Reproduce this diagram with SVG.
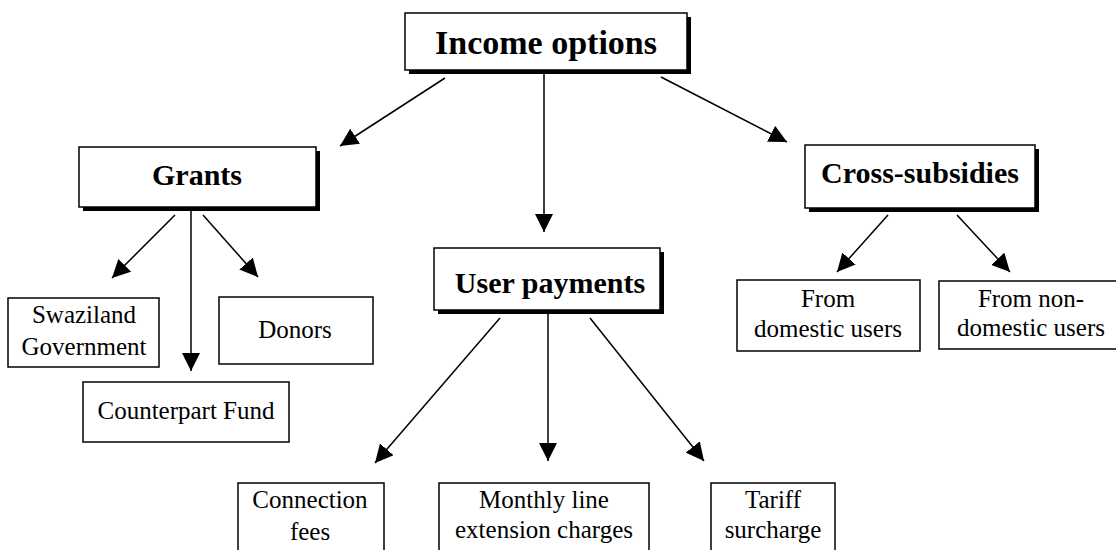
<svg xmlns="http://www.w3.org/2000/svg" width="1116" height="550" viewBox="0 0 1116 550">
  <style>
    .box { fill: #ffffff; stroke: #000000; stroke-width: 1.5; }
    .shadow { fill: #000000; }
    .title { font-weight: bold; font-size: 30px; fill: #000000; text-anchor: middle; }
    .label { font-size: 25px; fill: #000000; text-anchor: middle; }
    .conn { stroke: #000000; stroke-width: 1.5; fill: none; marker-end: url(#arrow); }
  </style>
  <defs>
    <marker id="arrow" viewBox="0 0 18 18" refX="18" refY="9" markerWidth="18" markerHeight="18" markerUnits="userSpaceOnUse" orient="auto">
      <path d="M0,0 L18,9 L0,18 z" fill="#000000"/>
    </marker>
  </defs>
  <rect width="1116" height="550" fill="#ffffff"/>

  <g id="connectors">
    <line class="conn" x1="445" y1="78" x2="340" y2="146"/>
    <line class="conn" x1="544" y1="73" x2="544" y2="232"/>
    <line class="conn" x1="661" y1="77" x2="787" y2="142"/>
    <line class="conn" x1="175" y1="215" x2="112" y2="278"/>
    <line class="conn" x1="191" y1="208" x2="191" y2="371"/>
    <line class="conn" x1="203" y1="215" x2="258" y2="277"/>
    <line class="conn" x1="888" y1="215" x2="837" y2="272"/>
    <line class="conn" x1="957" y1="215" x2="1010" y2="272"/>
    <line class="conn" x1="500" y1="318" x2="375" y2="463"/>
    <line class="conn" x1="548" y1="314" x2="548" y2="461"/>
    <line class="conn" x1="590" y1="318" x2="704" y2="461"/>
  </g>

  <g font-family="Liberation Serif, Times New Roman, serif">
  <g id="income-options">
    <rect class="shadow" x="409" y="17" width="282" height="57"/>
    <rect class="box" x="405" y="13" width="282" height="57"/>
    <text class="title" x="546" y="54" style="font-size:34px">Income options</text>
  </g>

  <g id="grants">
    <rect class="shadow" x="83" y="151" width="237" height="60"/>
    <rect class="box" x="79" y="147" width="237" height="60"/>
    <text class="title" x="197" y="185">Grants</text>
  </g>

  <g id="user-payments">
    <rect class="shadow" x="438" y="252" width="226" height="62"/>
    <rect class="box" x="434" y="248" width="226" height="62"/>
    <text class="title" x="550" y="293">User payments</text>
  </g>

  <g id="cross-subsidies">
    <rect class="shadow" x="809" y="149" width="230" height="63"/>
    <rect class="box" x="805" y="145" width="230" height="63"/>
    <text class="title" x="920" y="183">Cross-subsidies</text>
  </g>

  <g id="swaziland-government">
    <rect class="box" x="8" y="298" width="151" height="69"/>
    <text class="label" x="84" y="323">Swaziland</text>
    <text class="label" x="84" y="355">Government</text>
  </g>

  <g id="donors">
    <rect class="box" x="219" y="297" width="154" height="67"/>
    <text class="label" x="295" y="338">Donors</text>
  </g>

  <g id="counterpart-fund">
    <rect class="box" x="83" y="382" width="206" height="60"/>
    <text class="label" x="186" y="419">Counterpart Fund</text>
  </g>

  <g id="from-domestic">
    <rect class="box" x="737" y="280" width="183" height="71"/>
    <text class="label" x="828" y="307">From</text>
    <text class="label" x="828" y="337">domestic users</text>
  </g>

  <g id="from-non-domestic">
    <rect class="box" x="939" y="281" width="190" height="68"/>
    <text class="label" x="1031" y="307">From non-</text>
    <text class="label" x="1031" y="336">domestic users</text>
  </g>

  <g id="connection-fees">
    <rect class="box" x="238" y="483" width="146" height="80"/>
    <text class="label" x="310" y="508">Connection</text>
    <text class="label" x="310" y="540">fees</text>
  </g>

  <g id="monthly-line-extension">
    <rect class="box" x="439" y="483" width="210" height="80"/>
    <text class="label" x="544" y="508">Monthly line</text>
    <text class="label" x="544" y="538">extension charges</text>
  </g>

  <g id="tariff-surcharge">
    <rect class="box" x="711" y="483" width="124" height="80"/>
    <text class="label" x="773" y="508">Tariff</text>
    <text class="label" x="773" y="538">surcharge</text>
  </g>
  </g>
</svg>
